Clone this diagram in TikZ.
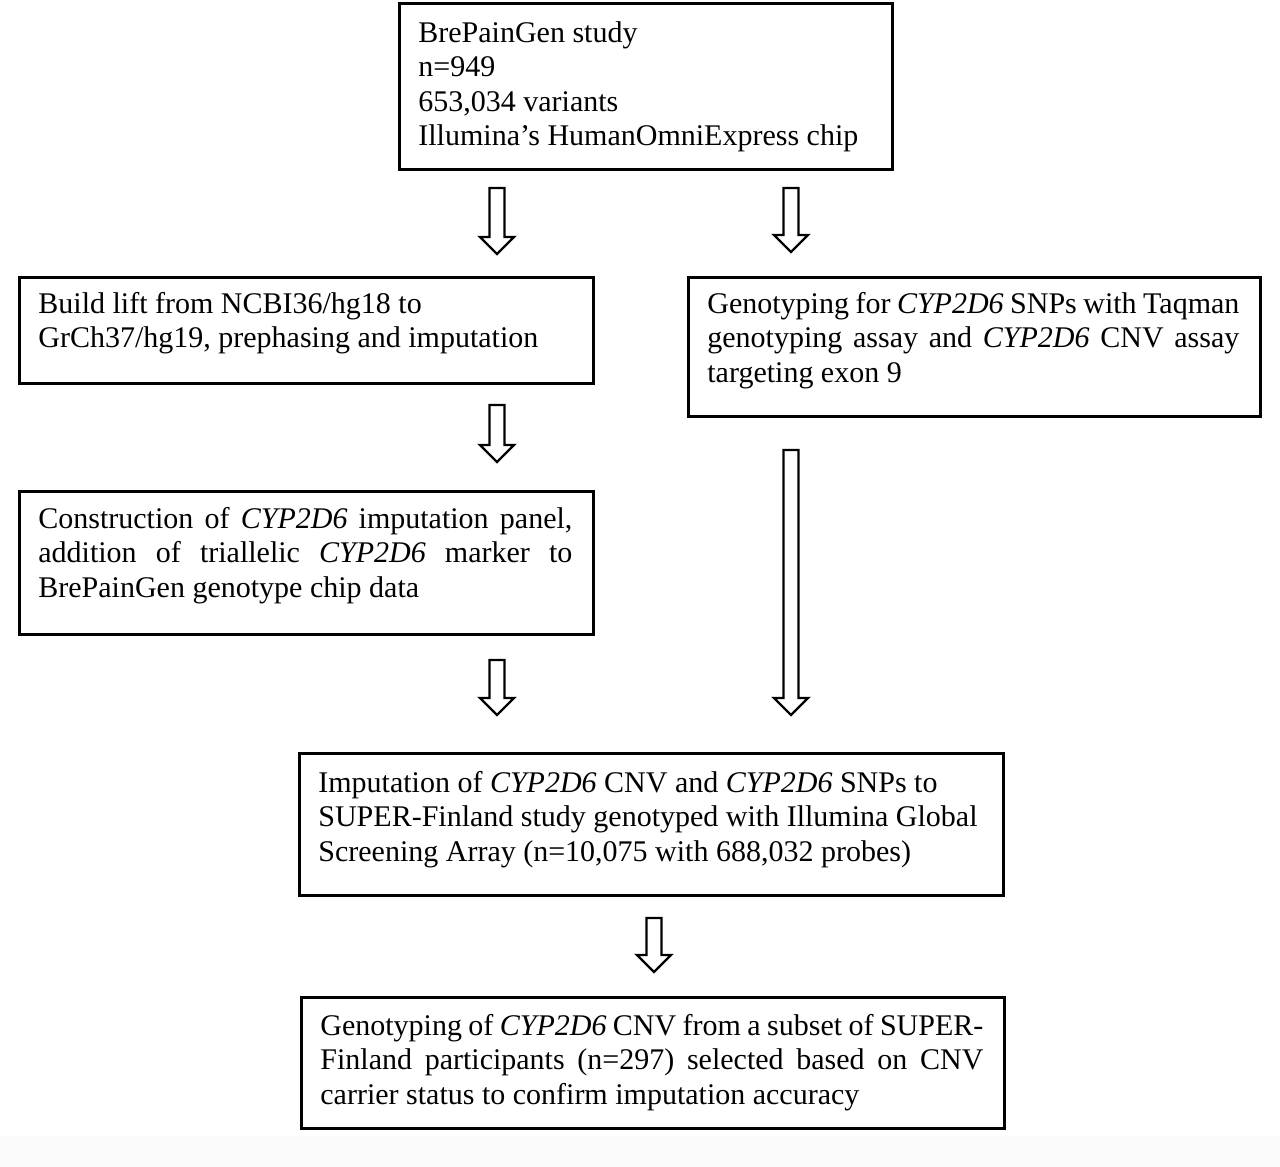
\documentclass[tikz,border=0pt]{standalone}
\usepackage{fontspec}
\setmainfont{Liberation Serif}
\newcommand{\tsp}{\spaceskip=0pt\xspaceskip=0pt\relax}
\newcommand{\jline}[2]{\leavevmode\hbox to #1{\tsp #2}}
\newcommand{\blockarr}[3]{%
  \draw[barrow] (#1-7.5,#2) -- (#1+7.5,#2) -- (#1+7.5,#3-17) -- (#1+17,#3-17)
    -- (#1,#3) -- (#1-17,#3-17) -- (#1-7.5,#3-17) -- cycle;}
\tikzset{
  box/.style={draw=black, line width=1.5pt, fill=none, inner sep=0pt, anchor=north west},
  txt/.style={inner sep=0pt, anchor=base west, align=left,
    font=\fontsize{15}{17.3}\selectfont},
  barrow/.style={draw=black, line width=1.2pt, fill=white, line join=miter},
}
\begin{document}
\begin{tikzpicture}[x=0.5pt,y=-0.5pt]
\useasboundingbox (0,0) rectangle (1280,1167);
\fill[white] (0,0) rectangle (1280,1167);
\fill[black!1.5] (0,1136) rectangle (1280,1167);

% boxes
\node[box, minimum width=246.5pt, minimum height=83pt] (b1) at (398,2) {};
\node[box, minimum width=287pt, minimum height=53pt] (b2) at (18,276) {};
\node[box, minimum width=286pt, minimum height=69.5pt] (b3) at (687,276) {};
\node[box, minimum width=287pt, minimum height=71.5pt] (b4) at (18,490) {};
\node[box, minimum width=352pt, minimum height=71pt] (b5) at (298,752) {};
\node[box, minimum width=351.5pt, minimum height=65.5pt] (b6) at (300,996) {};

% texts
\node[txt, text width=240pt] (t1) at (418,42) {\tsp BrePainGen study\\n=949\\653,034 variants\\Illumina’s HumanOmniExpress chip};
\node[txt, text width=280pt] (t2) at (38,313) {\tsp Build lift from NCBI36/hg18 to\\GrCh37/hg19, prephasing and imputation};
\node[txt, text width=270pt] (t3) at (707,313) {\jline{266pt}{Genotyping for \textit{CYP2D6} SNPs with Taqman}\\
\jline{266pt}{genotyping assay and \textit{CYP2D6} CNV assay}\\\tsp targeting exon 9};
\node[txt, text width=270pt] (t4) at (38,528) {\jline{267pt}{Construction of \textit{CYP2D6} imputation panel,}\\
\jline{267pt}{addition of triallelic \textit{CYP2D6} marker to}\\\tsp BrePainGen genotype chip data};
\node[txt, text width=340pt] (t5) at (318,792) {\tsp Imputation of \textit{CYP2D6} CNV and \textit{CYP2D6} SNPs to\\
SUPER-Finland study genotyped with Illumina Global\\Screening Array (n=10,075 with 688,032 probes)};
\node[txt, text width=340pt] (t6) at (320,1035) {\jline{331.5pt}{Genotyping of \textit{CYP2D6} CNV from a subset of SUPER-}\\
\jline{331.5pt}{Finland participants (n=297) selected based on CNV}\\\tsp carrier status to confirm imputation accuracy};

% block arrows
\blockarr{497}{188}{254}
\blockarr{791}{188}{252}
\blockarr{497}{405}{462}
\blockarr{791}{450}{715}
\blockarr{497}{660}{715}
\blockarr{654}{918}{972}
\end{tikzpicture}
\end{document}
